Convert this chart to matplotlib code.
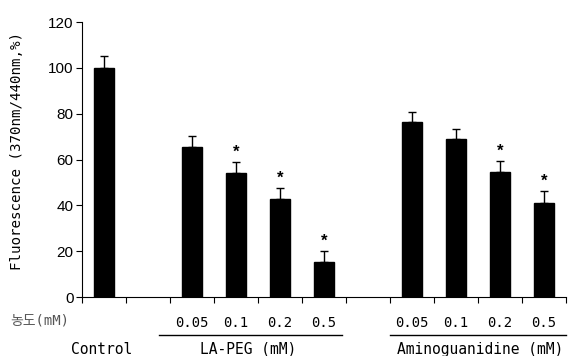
import numpy as np
import matplotlib.pyplot as plt

plt.rcParams['font.family'] = ['Liberation Sans', 'DejaVu Sans']

# data (slots 1 and 6 are spacers)
slots = [0, 2, 3, 4, 5, 7, 8, 9, 10]
conc_labels = ['', '0.05', '0.1', '0.2', '0.5', '0.05', '0.1', '0.2', '0.5']
means = [100, 65.6, 54.2, 42.8, 15.4, 76.2, 68.8, 54.4, 41.1]
errs = [5.0, 4.8, 4.8, 4.8, 4.7, 4.7, 4.6, 4.9, 5.1]
signif = [False, False, True, True, True, False, False, True, True]

mono = ['DejaVu Sans Mono', 'Noto Sans CJK KR']

fig = plt.figure(figsize=(5.68, 3.56), dpi=100)
ax = fig.add_axes([0.1444, 0.1657, 0.852, 0.7725])

ax.bar(slots, means, width=0.46, color='black', edgecolor='black')
ax.errorbar(slots, means, yerr=[np.zeros(len(means)), errs], fmt='none',
            ecolor='black', elinewidth=1, capsize=3, capthick=1)

for x, m, e, s in zip(slots, means, errs, signif):
    if s:
        ax.text(x, m + e + 4.2, '*', ha='center', va='center', fontsize=12,
                fontweight='bold')

ax.set_xlim(-0.5, 10.5)
ax.set_ylim(0, 120)
ax.set_yticks(range(0, 121, 20))
ax.set_xticks(np.arange(-0.5, 10.6, 1))
ax.set_xticklabels([])
ax.tick_params(axis='y', direction='out', length=4, labelsize=11, pad=2)
ax.tick_params(axis='x', direction='out', length=4)
for sp in ['top', 'right']:
    ax.spines[sp].set_visible(False)

ax.set_ylabel('Fluorescence (370nm/440nm,%)', fontsize=10.2, family=mono)
ax.yaxis.set_label_coords(-0.12, 0.53)

# concentration row
fig.text(10 / 568, 1 - 320 / 356, '농도(mM)', ha='left', va='center',
         fontsize=10, family=mono, color='#555555')
for x, lab in zip(slots, conc_labels):
    if lab:
        ax.text(x, -11.2, lab, ha='center', va='center', fontsize=10,
                family=mono, clip_on=False)

# group underlines and labels
ax.plot([1.26, 5.4], [-16.4, -16.4], color='black', lw=1, clip_on=False)
ax.plot([6.5, 10.5], [-16.4, -16.4], color='black', lw=1, clip_on=False)
ax.text(-0.05, -22.7, 'Control', ha='center', va='center', fontsize=10.5,
        family=mono, clip_on=False)
ax.text(3.27, -22.7, 'LA-PEG (mM)', ha='center', va='center', fontsize=10.5,
        family=mono, clip_on=False)
ax.text(8.55, -22.7, 'Aminoguanidine (mM)', ha='center', va='center', fontsize=10.5,
        family=mono, clip_on=False)

fig.savefig('out.png', dpi=100)
